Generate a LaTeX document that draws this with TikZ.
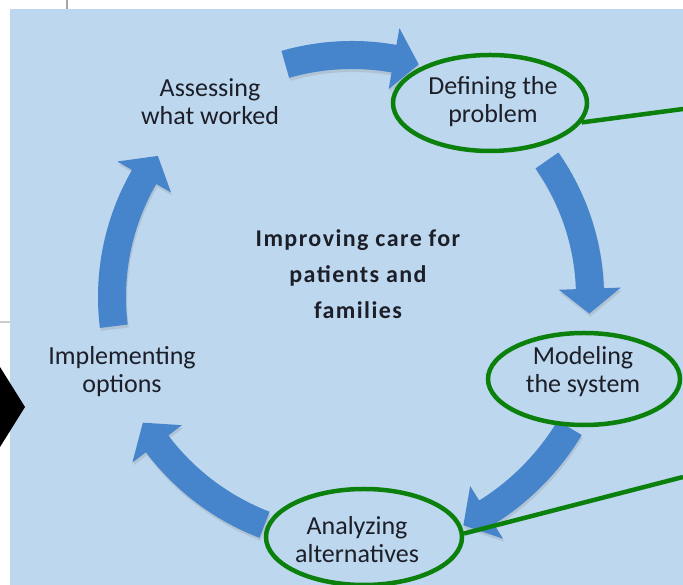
\documentclass[tikz,border=0pt]{standalone}
\usepackage{fontspec}
\setmainfont{Carlito}
\newfontfamily\centerfont[LetterSpace=6]{Carlito}
\usetikzlibrary{shapes.geometric,shadows}
\definecolor{bgblue}{RGB}{189,215,238}
\definecolor{arrowblue}{RGB}{70,132,204}
\definecolor{ringgreen}{RGB}{12,128,12}
\definecolor{txt}{RGB}{28,30,40}
\tikzset{
  arrowfill/.style={fill=arrowblue,drop shadow={opacity=0.22,shadow xshift=1pt,shadow yshift=-3pt}},
  steplabel/.style={align=center,text=txt,font=\fontsize{26}{28}\selectfont,inner sep=0pt},
  ring/.style={ellipse,draw=ringgreen,line width=4.5pt,inner sep=0pt},
  pointer/.style={draw=ringgreen,line width=4.5pt}
}
\newcommand\cyclearrow[4]{%
  \pgfmathsetmacro\ro{#4+14}\pgfmathsetmacro\ri{#4-14}%
  \pgfmathsetmacro\hoo{#4+31}\pgfmathsetmacro\hii{#4-31}%
  \fill[arrowfill,shift={(O)}] (#1:\ro pt) arc[start angle=#1,end angle=#2,radius=\ro pt]
    -- (#2:\hoo pt) -- (#3:#4pt) -- (#2:\hii pt) -- (#2:\ri pt)
    arc[start angle=#2,end angle=#1,radius=\ri pt] -- cycle;}
\begin{document}
\begin{tikzpicture}[x=1pt,y=1pt]
\useasboundingbox (0,0) rectangle (683,585);
\fill[white] (0,0) rectangle (683,585);
% background panel and fragments at the edges
\fill[bgblue] (10,0) rectangle (683,576);
\draw[gray!70,line width=2pt] (67,576) -- (67,585);
\draw[gray!40,line width=2pt] (0,263) -- (10,263);
\fill[black] (0,218) -- (25,178) -- (0,138) -- cycle;
% cycle arrows
\coordinate (O) at (352,288);
\cyclearrow{106}{80}{74}{242}
\cyclearrow{35}{2}{-4}{238}
\cyclearrow{-31}{-58}{-64}{254}
\cyclearrow{249}{217}{211}{244}
\cyclearrow{187}{150}{144}{240}
% labels
\node[steplabel] (assess) at (210,483) {Assessing\\what worked};
\node[steplabel] (define) at (493,483) {Defining the\\problem};
\node[steplabel] (model) at (583,213) {Modeling\\the system};
\node[steplabel] (implement) at (122,213) {Implementing\\options};
\node[steplabel] (analyze) at (357,45) {Analyzing\\alternatives};
\node[align=center,text=txt,inner sep=0pt,font=\centerfont\bfseries\fontsize{24}{36}\selectfont] (centre) at (358,311) {Improving care for\\patients and\\families};
% green highlight rings
\node[ring,minimum width=194pt,minimum height=96pt] (ringdefine) at (490,482) {};
\node[ring,minimum width=192pt,minimum height=92pt] (ringmodel) at (584,206) {};
\node[ring,minimum width=196pt,minimum height=96pt] (ringanalyze) at (364,48) {};
\coordinate (outA) at (683,476);
\coordinate (outB) at (683,108);
\draw[pointer] (ringdefine.-12) -- (outA);
\draw[pointer] (ringanalyze.2) -- (outB);
\end{tikzpicture}
\end{document}
